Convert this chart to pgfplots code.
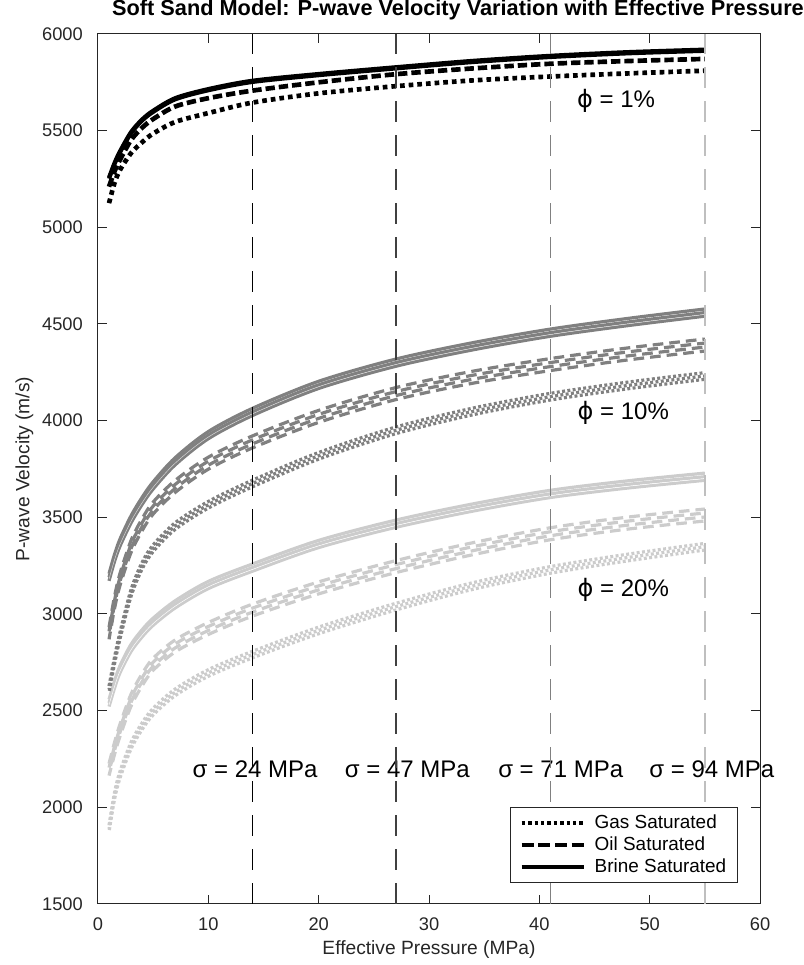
\documentclass[border=0pt]{standalone}
\usepackage{fontspec}
\setmainfont{Liberation Sans}
\newfontfamily\dejavu{DejaVu Sans}
\usepackage{pgfplots}
\pgfplotsset{compat=1.18}
\usepackage{pgfplotstable}

\definecolor{dgray}{gray}{0.5}
\definecolor{lgray}{gray}{0.8}
\definecolor{axgray}{gray}{0.15}

% P = effective pressure (MPa); g/o/b = gas/oil/brine; 1/10/20 = porosity (%)
\pgfplotstableread{
P    g1   o1   b1   g10  o10  b10  g20  o20  b20
1    5125 5210 5255 2610 2900 3190 1890 2195 2540
1.5  5230 5290 5330 2760 3060 3290 2060 2305 2635
2    5297 5350 5391 2890 3180 3370 2170 2400 2715
3    5384 5452 5490 3110 3350 3490 2320 2555 2825
4    5440 5515 5555 3250 3462 3585 2420 2660 2900
5    5485 5560 5600 3340 3548 3665 2495 2740 2960
7    5545 5625 5665 3455 3660 3790 2595 2835 3050
10   5591 5668 5712 3565 3780 3925 2695 2925 3150
14   5645 5707 5755 3675 3890 4045 2790 3020 3240
20   5693 5750 5790 3818 4022 4185 2915 3135 3362
27   5730 5792 5825 3950 4140 4300 3038 3245 3467
34   5760 5822 5858 4048 4225 4385 3145 3338 3551
41   5780 5846 5884 4124 4290 4455 3228 3415 3621
48   5796 5860 5903 4182 4345 4510 3292 3470 3670
55   5810 5871 5916 4231 4391 4559 3348 3512 3710
}\data

% one curve copy: #1 options, #2 vertical shift, #3 column
\newcommand{\cp}[3]{\addplot[smooth, forget plot, transform canvas={yshift=#2}, #1] table[x=P,y=#3]{\data};}

\begin{document}
\begin{tikzpicture}
\begin{axis}[
  name=ax,
  scale only axis, width=496.5pt, height=652.5pt,
  xmin=0, xmax=60, ymin=1500, ymax=6000,
  xtick={0,10,...,60}, ytick={1500,2000,...,6000},
  clip=false,
  tick align=inside, major tick length=6.5pt,
  axis line style={axgray, line width=0.75pt},
  every tick/.style={axgray, line width=0.75pt},
  tick label style={font=\fontsize{13.7}{16}\selectfont, text=black!85},
  /pgf/number format/assume math mode=true,
  /pgf/number format/1000 sep={},
  scaled ticks=false,
  yticklabel style={anchor=east, inner sep=0pt, xshift=-11.25pt},
  xticklabel style={anchor=north, inner sep=0pt, yshift=-9.75pt},
  xlabel={Effective Pressure (MPa)},
  ylabel={P-wave Velocity (m/s)},
  xlabel style={at={(axis description cs:0.5,0)}, anchor=base, yshift=-37.5pt, font=\fontsize{14.4}{17}\selectfont, text=black!85},
  ylabel style={at={(axis description cs:-0.1035,0.5)}, anchor=base, font=\fontsize{14.4}{17}\selectfont, text=black!85},
  title={Soft Sand Model: P-wave Velocity Variation with Effective Pressure},
  title style={at={(axis description cs:0.5438,1)}, anchor=base, yshift=7.5pt, font=\bfseries\fontsize{16.3}{19}\selectfont},
  legend image code/.code={\draw[#1] (0pt,0pt) -- (47pt,0pt);},
  legend cell align=left,
  legend style={at={(axis description cs:0.9668,0.0241)}, anchor=south east,
    draw=axgray, line width=0.6pt, fill=white,
    font=\fontsize{14.2}{17}\selectfont,
    inner xsep=7pt, inner ysep=3.4pt, row sep=0pt,
    /tikz/every odd column/.append style={column sep=5pt},
    nodes={inner xsep=1.5pt, inner ysep=1.75pt, text height=10.5pt, text depth=2.5pt}},
]
% ---- phi = 20% (light gray)
\cp{lgray, line width=2.4pt}{2.7pt}{b20}
\cp{lgray, line width=2.4pt}{0pt}{b20}
\cp{lgray, line width=2.4pt}{-2.7pt}{b20}
\cp{white, line width=0.35pt}{-1.4pt}{b20}
\cp{lgray, line width=2.4pt, dash pattern=on 8pt off 4.5pt}{4.5pt}{o20}
\cp{lgray, line width=2.4pt, dash pattern=on 8pt off 4.5pt, dash phase=4pt}{1.5pt}{o20}
\cp{lgray, line width=2.4pt, dash pattern=on 8pt off 4.5pt, dash phase=8pt}{-1.5pt}{o20}
\cp{lgray, line width=2.4pt, dash pattern=on 8pt off 4.5pt, dash phase=2pt}{-4.5pt}{o20}
\cp{lgray, line width=2.4pt, dash pattern=on 2.2pt off 1.8pt}{2.5pt}{g20}
\cp{lgray, line width=2.4pt, dash pattern=on 2.2pt off 1.8pt, dash phase=1.3pt}{0pt}{g20}
\cp{lgray, line width=2.4pt, dash pattern=on 2.2pt off 1.8pt, dash phase=2.6pt}{-2.5pt}{g20}
% ---- phi = 10% (dark gray)
\cp{dgray, line width=2.4pt}{2.7pt}{b10}
\cp{dgray, line width=2.4pt}{0pt}{b10}
\cp{dgray, line width=2.4pt}{-2.7pt}{b10}
\cp{white!70!dgray, line width=0.35pt}{-1.4pt}{b10}
\cp{dgray, line width=2.4pt, dash pattern=on 8pt off 4.5pt}{4.5pt}{o10}
\cp{dgray, line width=2.4pt, dash pattern=on 8pt off 4.5pt, dash phase=4pt}{1.5pt}{o10}
\cp{dgray, line width=2.4pt, dash pattern=on 8pt off 4.5pt, dash phase=8pt}{-1.5pt}{o10}
\cp{dgray, line width=2.4pt, dash pattern=on 8pt off 4.5pt, dash phase=2pt}{-4.5pt}{o10}
\cp{dgray, line width=2.4pt, dash pattern=on 2.2pt off 1.8pt}{2.5pt}{g10}
\cp{dgray, line width=2.4pt, dash pattern=on 2.2pt off 1.8pt, dash phase=1.3pt}{0pt}{g10}
\cp{dgray, line width=2.4pt, dash pattern=on 2.2pt off 1.8pt, dash phase=2.6pt}{-2.5pt}{g10}
% ---- phi = 1% (black)
\cp{black, line width=3pt}{0.5pt}{b1}
\cp{black, line width=3pt}{-0.5pt}{b1}
\cp{black, line width=3.5pt, dash pattern=on 7pt off 3pt}{0pt}{o1}
\cp{black, line width=3.5pt, dash pattern=on 3.5pt off 3pt}{0pt}{g1}

% ---- annotations
\node[anchor=base west, font=\fontsize{18}{21}\selectfont] at (axis cs:43.0,5622) {{\dejavu ϕ} = 1\%};
\node[anchor=base west, font=\fontsize{18}{21}\selectfont] at (axis cs:43.05,4007) {{\dejavu ϕ} = 10\%};
\node[anchor=base west, font=\fontsize{18}{21}\selectfont] at (axis cs:43.05,3090) {{\dejavu ϕ} = 20\%};
\node[anchor=base west, font=\fontsize{18}{21}\selectfont] at (axis cs:8.15,2152) {σ = 24 MPa};
\node[anchor=base west, font=\fontsize{18}{21}\selectfont] at (axis cs:21.95,2152) {σ = 47 MPa};
\node[anchor=base west, font=\fontsize{18}{21}\selectfont] at (axis cs:35.85,2152) {σ = 71 MPa};
\node[anchor=base west, font=\fontsize{18}{21}\selectfont] at (axis cs:49.55,2152) {σ = 94 MPa};

% ---- vertical reference lines
\addplot[black, line width=1pt, dash pattern=on 16pt off 9.5pt, forget plot] coordinates {(14,1500) (14,6000)};
\addplot[black!75, line width=1pt, dash pattern=on 16pt off 9.5pt, forget plot] coordinates {(27,1500) (27,6000)};
\addplot[black!50, line width=1pt, dash pattern=on 16pt off 9.5pt, forget plot] coordinates {(41,1500) (41,6000)};
\addplot[black!25, line width=1pt, dash pattern=on 16pt off 9.5pt, forget plot] coordinates {(55,1500) (55,6000)};

% ---- legend
\addlegendimage{black, line width=2.5pt, dash pattern=on 2.6pt off 2.2pt}
\addlegendentry{Gas Saturated}
\addlegendimage{black, line width=2.5pt, dash pattern=on 9pt off 3.5pt}
\addlegendentry{Oil Saturated}
\addlegendimage{black, line width=2.5pt}
\addlegendentry{Brine Saturated}
\end{axis}
\pgfresetboundingbox
\path[use as bounding box] ([xshift=-73.5pt,yshift=-45.75pt]ax.south west) rectangle ([xshift=32.25pt,yshift=25.5pt]ax.north east);
\end{tikzpicture}
\end{document}
